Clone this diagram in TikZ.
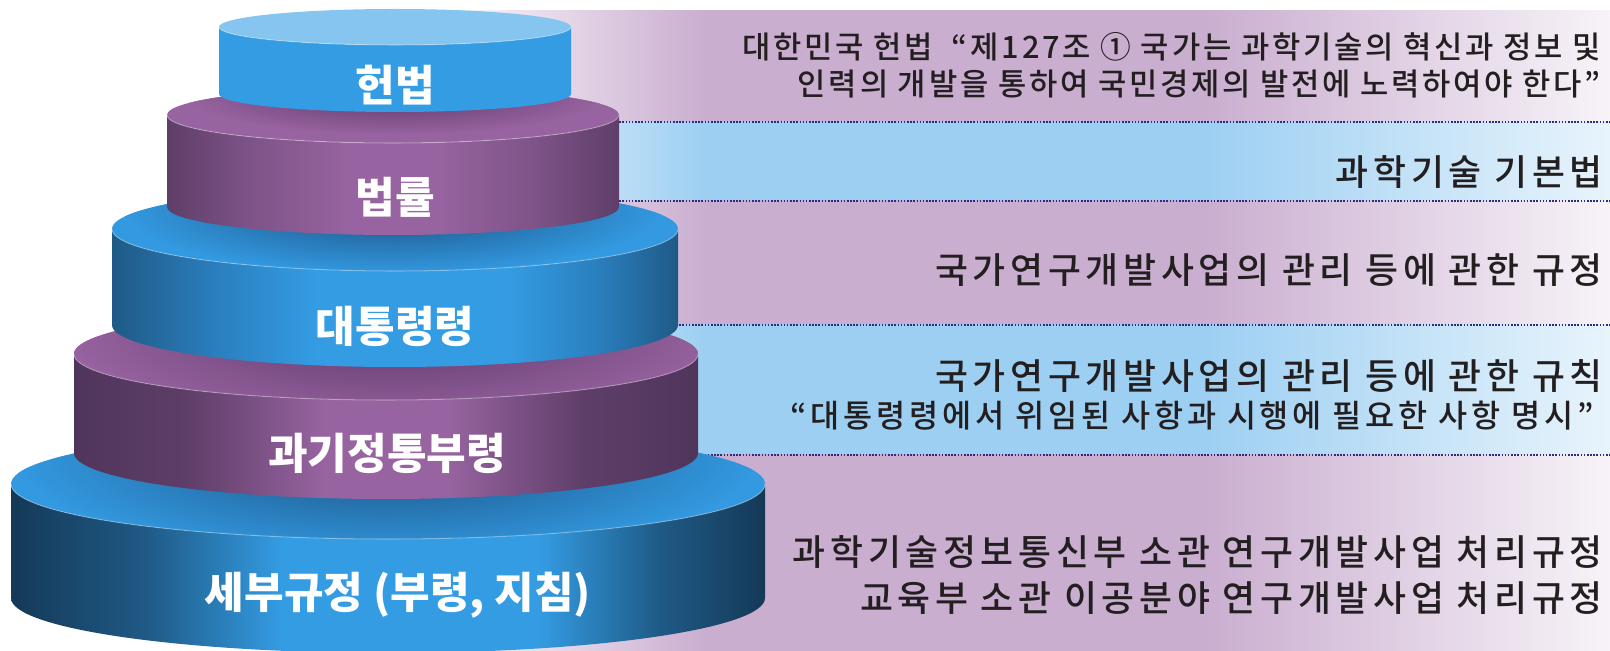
\documentclass[tikz,border=0pt]{standalone}
\usepackage{fontspec}
\setmainfont{Noto Sans CJK KR}
\newfontfamily\heavy{Noto Sans CJK KR Black}
\newfontfamily\medium{Noto Sans CJK KR Medium}
\usetikzlibrary{calc}

\definecolor{bEdge}{HTML}{1F5A86}
\definecolor{bDeep}{HTML}{153957}
\definecolor{bMid}{HTML}{2A7EBD}
\definecolor{bLight}{HTML}{349CE3}
\definecolor{pEdge}{HTML}{5E3E68}
\definecolor{pDeep}{HTML}{50355B}
\definecolor{pMid}{HTML}{7D5387}
\definecolor{pLight}{HTML}{9763A0}
\definecolor{topBlue}{HTML}{3399E0}
\definecolor{topSky}{HTML}{86C5F0}
\definecolor{shB}{HTML}{1A4F80}
\definecolor{shP}{HTML}{5E3869}
\definecolor{bandP}{HTML}{CAAED0}
\definecolor{bandPend}{HTML}{F7F3F8}
\definecolor{bandB}{HTML}{9DCFF2}
\definecolor{bandBend}{HTML}{E8F4FC}
\definecolor{dots}{HTML}{2B2E7E}
\definecolor{ink}{HTML}{231F20}

\pgfdeclarehorizontalshading{sideBlue}{100bp}{color(0bp)=(bEdge); color(25bp)=(bEdge); color(34bp)=(bMid); color(43bp)=(bLight); color(60bp)=(bLight); color(68bp)=(bMid); color(75bp)=(bEdge); color(100bp)=(bEdge)}
\pgfdeclarehorizontalshading{sideDeep}{100bp}{color(0bp)=(bDeep); color(25bp)=(bDeep); color(34bp)=(bEdge); color(43bp)=(bLight); color(60bp)=(bLight); color(68bp)=(bEdge); color(75bp)=(bDeep); color(100bp)=(bDeep)}
\pgfdeclarehorizontalshading{sidePurple}{100bp}{color(0bp)=(pEdge); color(25bp)=(pEdge); color(34bp)=(pMid); color(45bp)=(pLight); color(55bp)=(pLight); color(66bp)=(pMid); color(75bp)=(pEdge); color(100bp)=(pEdge)}
\pgfdeclarehorizontalshading{sidePurpleDeep}{100bp}{color(0bp)=(pDeep); color(25bp)=(pDeep); color(34bp)=(pEdge); color(45bp)=(pLight); color(55bp)=(pLight); color(66bp)=(pEdge); color(75bp)=(pDeep); color(100bp)=(pDeep)}
\pgfdeclarehorizontalshading{sideSky}{100bp}{color(0bp)=(bLight); color(100bp)=(bLight)}
\pgfdeclarehorizontalshading{bandPurple}{100bp}{color(0bp)=(white); color(25bp)=(white); color(37bp)=(bandP); color(58bp)=(bandP); color(75bp)=(bandPend); color(100bp)=(bandPend)}
\pgfdeclarehorizontalshading{bandBlue}{100bp}{color(0bp)=(white); color(25bp)=(white); color(37bp)=(bandB); color(58bp)=(bandB); color(75bp)=(bandBend); color(100bp)=(bandBend)}

\begin{document}
\begin{tikzpicture}
[
	              x = 0.02cm,
	              y = -0.02cm,
	     tier/.style = { text=white, inner sep=0pt, font=\heavy\fontsize{24.5}{30}\selectfont },
	     note/.style = { text=ink, anchor=east, inner sep=0pt,
	                     font=\medium\fontsize{20.4}{26}\selectfont\addfontfeature{LetterSpace=13} },
	    small/.style = { font=\medium\fontsize{17.5}{21}\selectfont\addfontfeature{LetterSpace=9} },
	    quote/.style = { font=\medium\fontsize{18}{21}\selectfont\addfontfeature{LetterSpace=12} },
	 boundary/.style = { dots, line width=0.9pt, dash pattern=on 0.9pt off 0.9pt }
]
	\useasboundingbox (0,0) rectangle (1610,651);
	\clip (0,0) rectangle (1610,651);

	% bands
	\shade[shading=bandPurple] (420,11)  rectangle (1610,122);
	\shade[shading=bandBlue]   (420,122) rectangle (1610,201);
	\shade[shading=bandPurple] (420,201) rectangle (1610,325);
	\shade[shading=bandBlue]   (420,325) rectangle (1610,455);
	\shade[shading=bandPurple] (420,455) rectangle (1610,651);
	\foreach \y in {122,201,325,455}
		\draw[boundary] (420,\y) -- (1610,\y);

	% cylinders, bottom to top
	\foreach \cx/\yt/\yb/\rx/\ry/\sd/\tc/\hc/\hx/\hy/\hrx/\hry in {
		388/484/598/377/55/sideDeep/topBlue/shB/386/453/312/45,
		386/354/453/312/46/sidePurpleDeep/pLight/shP/395/325/283/43,
		395/229/325/283/42/sideBlue/topBlue/shB/393/207/226/28,
		393/115/207/226/28/sidePurple/pLight/shP/395/94/176/17,
		395/27/94/176/18/sideSky/topSky/topSky/395/0/1/1}
	{
		\shade[shading=\sd] (\cx-\rx,\yt) -- (\cx-\rx,\yb)
			arc[start angle=180, end angle=0, x radius=\rx, y radius=\ry]
			-- (\cx+\rx,\yt)
			arc[start angle=0, end angle=180, x radius=\rx, y radius=\ry] -- cycle;
		\fill[\tc] (\cx,\yt) ellipse[x radius=\rx, y radius=\ry];
		\begin{scope}
			\clip (\cx,\yt) ellipse[x radius=\rx, y radius=\ry];
			\shade[inner color=\hc, outer color=\tc] (\hx,\hy) ellipse[x radius=1.2*\hrx, y radius=2.4*\hry];
		\end{scope}
		\draw[white, opacity=.3, line width=0.6pt] (\cx-\rx,\yt)
			arc[start angle=180, end angle=0, x radius=\rx, y radius=\ry];
	}

	% labels
	\node (lvl1) at (395,85)  [tier] {헌법};
	\node (lvl2) at (395,197) [tier] {법률};
	\node (lvl3) at (395,326) [tier] {대통령령};
	\node (lvl4) at (387,453) [tier] {과기정통부령};
	\node (lvl5) at (398,595) [tier] {세부규정 (부령, 지침)};

	\node (txt1) at (1601,65)  [note, small, align=right] {대한민국 헌법\ \ “제127조 ① 국가는 과학기술의 혁신과 정보 및\\인력의 개발을 통하여 국민경제의 발전에 노력하여야 한다”};
	\node (txt2) at (1603,172) [note] {과학기술 기본법};
	\node (txt3) at (1603,270) [note] {국가연구개발사업의 관리 등에 관한 규정};
	\node (txt4) at (1603,376) [note] {국가연구개발사업의 관리 등에 관한 규칙};
	\node (txt5) at (1594,416) [note, quote] {“대통령령에서 위임된 사항과 시행에 필요한 사항 명시”};
	\node (txt6) at (1603,575) [note, align=right] {과학기술정보통신부 소관 연구개발사업 처리규정\\교육부 소관 이공분야 연구개발사업 처리규정};

\end{tikzpicture}
\end{document}
